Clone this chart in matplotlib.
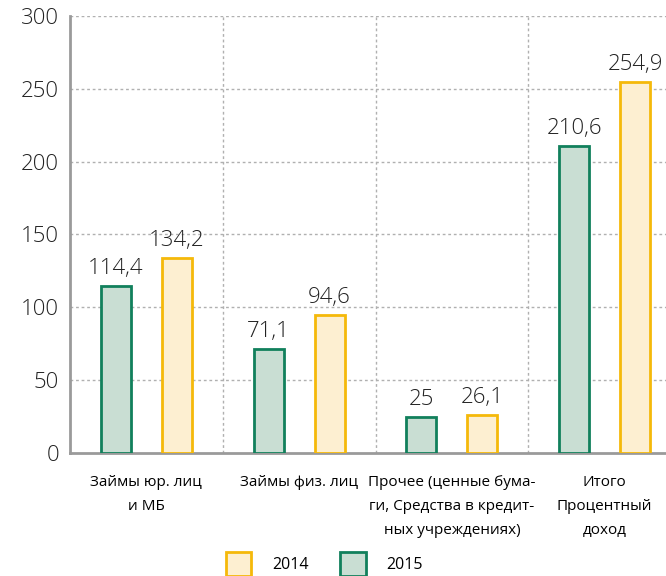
import matplotlib
matplotlib.use('Agg')
import matplotlib.pyplot as plt
from matplotlib.patches import Patch

# data
categories = ['Займы юр. лиц\nи МБ', 'Займы физ. лиц',
              'Прочее (ценные бума-\nги, Средства в кредит-\nных учреждениях)',
              'Итого\nПроцентный\nдоход']
values_2015 = [114.4, 71.1, 25, 210.6]
values_2014 = [134.2, 94.6, 26.1, 254.9]
yticks = [0, 50, 100, 150, 200, 250, 300]

green_edge = '#11805c'
green_fill = '#c9ded3'
yellow_edge = '#f5b90a'
yellow_fill = '#fdefd1'
grey = '#9a9a9a'

plt.rcParams['font.family'] = ['Open Sans', 'DejaVu Sans']

fig = plt.figure(figsize=(6.66, 5.76), dpi=100)
ax = fig.add_axes([70 / 666, 123 / 576, 611 / 666, 437 / 576])

x = list(range(len(categories)))
w = 0.196
off = 0.2
b15 = ax.bar([i - off for i in x], values_2015, w, color=green_fill,
             edgecolor=green_edge, linewidth=2, zorder=3)
b14 = ax.bar([i + off for i in x], values_2014, w, color=yellow_fill,
             edgecolor=yellow_edge, linewidth=2, zorder=3)

def fmt(v):
    return ('%g' % v).replace('.', ',')

for bars, vals in [(b15, values_2015), (b14, values_2014)]:
    for rect, v in zip(bars, vals):
        ax.annotate(fmt(v), (rect.get_x() + rect.get_width() / 2, v),
                    xytext=(0, 5), textcoords='offset points',
                    ha='center', va='bottom', fontsize=16, fontweight='light',
                    color='#222222')

ax.set_xlim(-0.5, 3.5)
ax.set_ylim(0, 300)
ax.set_yticks(yticks)
ax.set_yticklabels([str(t) for t in yticks], fontsize=16, fontweight='light',
                   color='#222222')
ax.tick_params(axis='y', length=0, pad=8)
ax.tick_params(axis='x', length=0, pad=16)
ax.set_xticks(x)
ax.set_xticklabels(categories, fontsize=11, linespacing=1.8)
for lbl in ax.get_xticklabels():
    lbl.set_va('top')

for t in yticks[1:]:
    ax.axhline(t, color='#b0b0b0', linestyle=(0, (2, 2)), linewidth=1, zorder=1)
for xb in [0.5, 1.5, 2.5]:
    ax.axvline(xb, color='#b0b0b0', linestyle=(0, (2, 2)), linewidth=1, zorder=1)

for s in ['top', 'right']:
    ax.spines[s].set_visible(False)
ax.spines['left'].set_color(grey)
ax.spines['bottom'].set_color(grey)
ax.spines['left'].set_linewidth(2)
ax.spines['bottom'].set_linewidth(2)

handles = [Patch(facecolor=yellow_fill, edgecolor=yellow_edge, linewidth=2, label='2014'),
           Patch(facecolor=green_fill, edgecolor=green_edge, linewidth=2, label='2015')]
fig.legend(handles=handles, ncol=2, loc='lower center', bbox_to_anchor=(0.487, -0.025),
           frameon=False, fontsize=11.5, handlelength=1.6, handleheight=1.9,
           columnspacing=2.0, handletextpad=1.3)

fig.savefig('out.png', dpi=100)
